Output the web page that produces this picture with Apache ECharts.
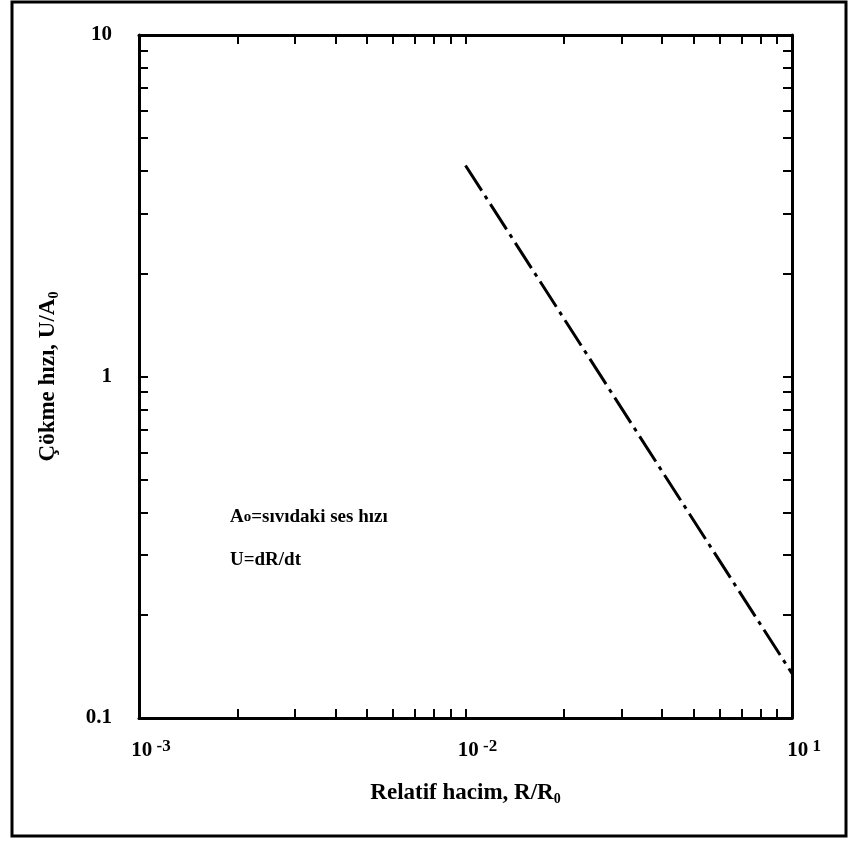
<!DOCTYPE html>
<html>
<head>
<meta charset="utf-8">
<script src="https://cdn.jsdelivr.net/npm/echarts@6/dist/echarts.min.js"></script>
<style>
  body { margin: 0; background: #fff; }
  #chart { width: 853px; height: 841px; }
</style>
</head>
<body>
<div id="chart"></div>
<script>
// eksen aralıkları
const xRange = [0.001, 0.1];
const yRange = [0.1, 10];

// kesik-noktalı doğru (okunan uç noktalar)
const lineX = [0.01, 0.1];
const lineY = [4.15, 0.135];

// tik değerleri
const xTicks = [0.001, 0.002, 0.003, 0.004, 0.005, 0.006, 0.007, 0.008, 0.009,
  0.01, 0.02, 0.03, 0.04, 0.05, 0.06, 0.07, 0.08, 0.09, 0.1];
const yTicks = [0.1, 0.2, 0.3, 0.4, 0.5, 0.6, 0.7, 0.8, 0.9,
  1, 2, 3, 4, 5, 6, 7, 8, 9, 10];
const xLabelValues = [0.001, 0.01, 0.1];
const xLabelExp = ["-3", "-2", "1"];
const yLabelValues = [0.1, 1, 10];
const yLabelText = ["0.1", "1", "10"];

const font = "Liberation Serif";

function nearestIndex(list, v) {
  let best = 0;
  list.forEach((item, i) => {
    if (Math.abs(Math.log10(item) - Math.log10(v)) < Math.abs(Math.log10(list[best]) - Math.log10(v))) best = i;
  });
  return best;
}

function makeX(pos, showLabel) {
  return {
    type: "log",
    logBase: 10,
    position: pos,
    min: xRange[0],
    max: xRange[1],
    axisLine: { show: true, onZero: false, lineStyle: { color: "#000", width: 3 } },
    axisTick: { show: true, inside: true, length: 9, customValues: xTicks, lineStyle: { color: "#000", width: 2 } },
    minorTick: { show: false },
    splitLine: { show: false },
    axisLabel: {
      show: showLabel,
      customValues: xLabelValues,
      margin: 20,
      padding: [0, 0, 0, 24],
      formatter: function (v) {
        const i = nearestIndex(xLabelValues, v);
        return "{b|10}{s| " + xLabelExp[i] + "}";
      },
      rich: {
        b: { fontFamily: font, fontWeight: "bold", fontSize: 21, color: "#000" },
        s: { fontFamily: font, fontWeight: "bold", fontSize: 17, color: "#000", verticalAlign: "bottom", padding: [0, 0, 8, 0] },
      },
    },
  };
}

function makeY(pos, showLabel) {
  return {
    type: "log",
    logBase: 10,
    position: pos,
    min: yRange[0],
    max: yRange[1],
    axisLine: { show: true, onZero: false, lineStyle: { color: "#000", width: 3 } },
    axisTick: { show: true, inside: true, length: 9, customValues: yTicks, lineStyle: { color: "#000", width: 2 } },
    minorTick: { show: false },
    splitLine: { show: false },
    axisLabel: {
      show: showLabel,
      customValues: yLabelValues,
      margin: 27,
      fontFamily: font,
      fontWeight: "bold",
      fontSize: 21,
      color: "#000",
      formatter: function (v) {
        return yLabelText[nearestIndex(yLabelValues, v)];
      },
    },
  };
}

const xAxisBottom = makeX("bottom", true);
xAxisBottom.name = "{a|Relatif hacim, R/R}{s|0}";
xAxisBottom.nameLocation = "middle";
xAxisBottom.nameGap = 62;
xAxisBottom.nameTextStyle = {
  rich: {
    a: { fontFamily: font, fontWeight: "bold", fontSize: 23, color: "#000" },
    s: { fontFamily: font, fontWeight: "bold", fontSize: 14, color: "#000", verticalAlign: "top", padding: [12, 0, 0, 0] },
  },
};

const yAxisLeft = makeY("left", true);
yAxisLeft.name = "{a|Çökme hızı, U/A}{s|0}";
yAxisLeft.nameLocation = "middle";
yAxisLeft.nameGap = 78;
yAxisLeft.nameTextStyle = {
  rich: {
    a: { fontFamily: font, fontWeight: "bold", fontSize: 23, color: "#000" },
    s: { fontFamily: font, fontWeight: "bold", fontSize: 14, color: "#000", verticalAlign: "top", padding: [12, 0, 0, 0] },
  },
};

const chart = echarts.init(document.getElementById("chart"));
chart.setOption({
  backgroundColor: "#fff",
  animation: false,
  grid: { left: 139, right: 61, top: 35, bottom: 123, containLabel: false },
  xAxis: [xAxisBottom, makeX("top", false)],
  yAxis: [yAxisLeft, makeY("right", false)],
  series: [
    {
      type: "line",
      xAxisIndex: 0,
      yAxisIndex: 0,
      showSymbol: false,
      symbol: "none",
      clip: false,
      lineStyle: { color: "#000", width: 3, type: [30, 6, 4, 6], cap: "butt" },
      data: lineX.map((x, i) => [x, lineY[i]]),
    },
  ],
  graphic: [
    {
      type: "rect",
      shape: { x: 12, y: 2, width: 834, height: 834 },
      style: { fill: "none", stroke: "#000", lineWidth: 3 },
      silent: true,
    },
    {
      type: "text",
      left: 230,
      top: 508,
      style: {
        text: "{a|A}{s|o}{a|=sıvıdaki ses hızı}",
        rich: {
          a: { fontFamily: font, fontWeight: "bold", fontSize: 19, fill: "#000" },
          s: { fontFamily: font, fontWeight: "bold", fontSize: 15, fill: "#000" },
        },
      },
    },
    {
      type: "text",
      left: 230,
      top: 551,
      style: { text: "U=dR/dt", fontFamily: font, fontWeight: "bold", fontSize: 19, fill: "#000" },
    },
  ],
});
</script>
</body>
</html>
